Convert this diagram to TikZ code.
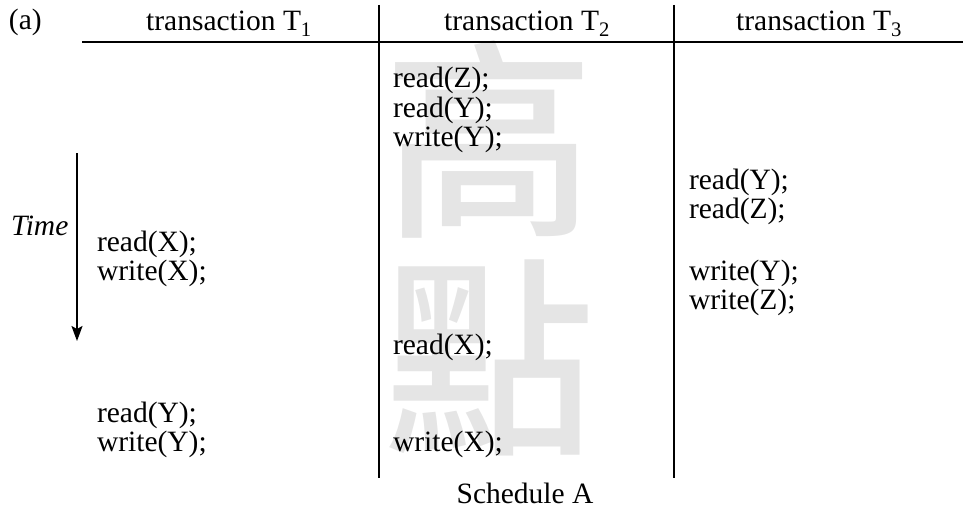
\documentclass[tikz,border=0pt]{standalone}
\usepackage{fontspec}
\setmainfont{Liberation Serif}
\newfontfamily\cjkfont{Noto Sans CJK TC}[UprightFont=* Medium]
\usetikzlibrary{arrows.meta}
\begin{document}
\begin{tikzpicture}[x=1pt,y=-1pt,
  every node/.style={inner sep=0pt,outer sep=0pt,font=\fontsize{29.5}{31}\selectfont},
  op/.style={anchor=base west},
  head/.style={anchor=base},
  rule/.style={line width=2pt},
  bgglyph/.style={text=black!10,font=\cjkfont\fontsize{212}{212}\selectfont,anchor=center}]
\useasboundingbox (0,0) rectangle (963,511);

% background lettering
\node[bgglyph] (w1) at (489,139) {高};
\node[bgglyph] (w2) at (489,358) {點};

% table frame
\coordinate (hl) at (82,42);
\coordinate (hr) at (963,42);
\coordinate (v1t) at (379,5);
\coordinate (v1b) at (379,478);
\coordinate (v2t) at (674,5);
\coordinate (v2b) at (674,478);
\draw[rule] (hl) -- (hr);
\draw[rule] (v1t) -- (v1b);
\draw[rule] (v2t) -- (v2b);

% headings
\node[op] (lbl) at (9,30) {(a)};
\node[head] (h1) at (229,31) {transaction T\textsubscript{1}};
\node[head] (h2) at (527,31) {transaction T\textsubscript{2}};
\node[head] (h3) at (819,31) {transaction T\textsubscript{3}};

% time axis
\coordinate (ta) at (77,153);
\coordinate (tb) at (77,341);
\draw[line width=2pt,-{Stealth[length=15pt,width=11pt,inset=3pt]}] (ta) -- (tb);
\node[op,font=\fontsize{29.5}{31}\selectfont\itshape] (time) at (11,235) {Time};

% transaction T1
\node[op] (a1) at (97,251) {read(X);};
\node[op] (a2) at (97,280) {write(X);};
\node[op] (a3) at (97,422) {read(Y);};
\node[op] (a4) at (97,451) {write(Y);};

% transaction T2
\node[op] (b1) at (393,88) {read(Z);};
\node[op] (b2) at (393,117) {read(Y);};
\node[op] (b3) at (393,146) {write(Y);};
\node[op] (b4) at (393,354) {read(X);};
\node[op] (b5) at (393,451) {write(X);};

% transaction T3
\node[op] (c1) at (689,189) {read(Y);};
\node[op] (c2) at (689,218) {read(Z);};
\node[op] (c3) at (689,280) {write(Y);};
\node[op] (c4) at (689,309) {write(Z);};

% caption
\node[head] (cap) at (525,503) {Schedule A};
\end{tikzpicture}
\end{document}
